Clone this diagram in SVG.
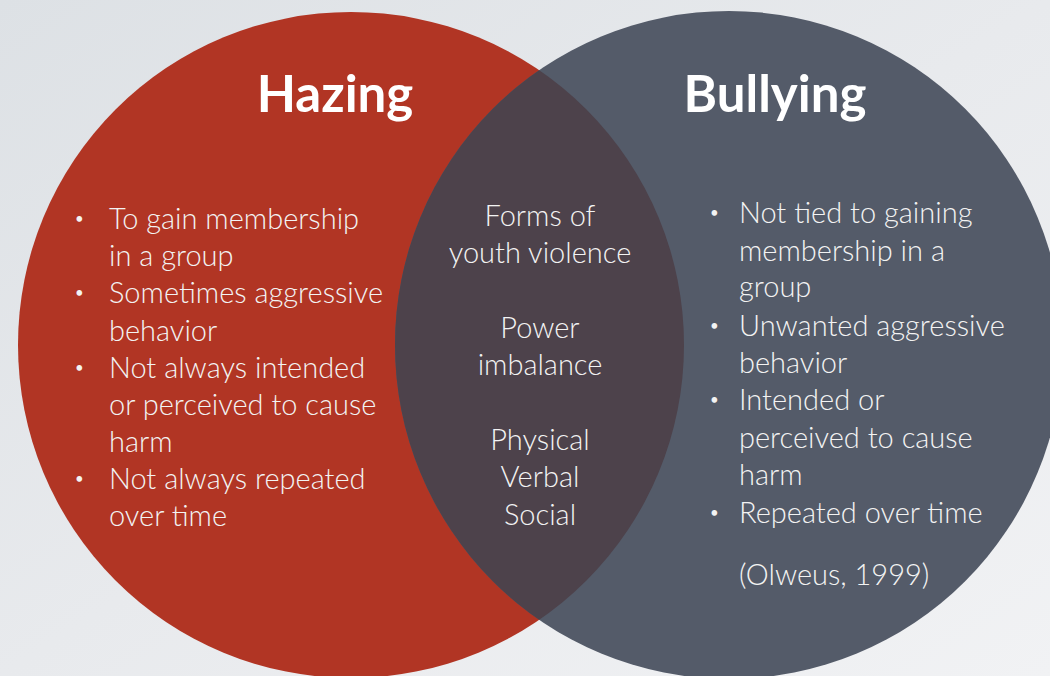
<svg xmlns="http://www.w3.org/2000/svg" width="1050" height="676" viewBox="0 0 1050 676">
  <defs>
    <linearGradient id="bg" x1="0" y1="0" x2="1" y2="1">
      <stop offset="0" stop-color="#dde1e5"/>
      <stop offset="0.5" stop-color="#e8eaed"/>
      <stop offset="1" stop-color="#f1f2f4"/>
    </linearGradient>
    <clipPath id="leftClip">
      <circle cx="351" cy="345" r="333"/>
    </clipPath>
    <style>
      .title { font-family: "Lato", "Open Sans", sans-serif; font-weight: 700; font-size: 51px; fill: #ffffff; }
      .body { font-family: "Lato", "Open Sans", sans-serif; font-weight: 300; font-size: 29px; fill: #f3f3f3; }
      .bullet { font-family: "Lato", "Open Sans", sans-serif; font-size: 15px; fill: #f3f3f3; }
      .center { text-anchor: middle; }
    </style>
  </defs>
  <rect x="0" y="0" width="1050" height="676" fill="url(#bg)"/>

  <g id="hazing">
    <circle cx="351" cy="345" r="333" fill="#b13524"/>
  </g>
  <g id="bullying">
    <circle cx="729" cy="345" r="334" fill="#545b69"/>
  </g>
  <g id="overlap">
    <circle cx="729" cy="345" r="334" fill="#4d424b" clip-path="url(#leftClip)"/>
  </g>

  <g id="hazing-text">
    <text class="title" x="335" y="112" text-anchor="middle">Hazing</text>
    <text class="bullet" x="75" y="224">•</text>
    <text class="body" x="109" y="229">To gain membership</text>
    <text class="body" x="109" y="266">in a group</text>
    <text class="bullet" x="75" y="298">•</text>
    <text class="body" x="109" y="303">Sometimes aggressive</text>
    <text class="body" x="109" y="341">behavior</text>
    <text class="bullet" x="75" y="373">•</text>
    <text class="body" x="109" y="378">Not always intended</text>
    <text class="body" x="109" y="415">or perceived to cause</text>
    <text class="body" x="109" y="452">harm</text>
    <text class="bullet" x="75" y="484">•</text>
    <text class="body" x="109" y="489">Not always repeated</text>
    <text class="body" x="109" y="526">over time</text>
  </g>

  <g id="shared-text">
    <text class="body center" x="540" y="226">Forms of</text>
    <text class="body center" x="540" y="263">youth violence</text>
    <text class="body center" x="540" y="338">Power</text>
    <text class="body center" x="540" y="375">imbalance</text>
    <text class="body center" x="540" y="450">Physical</text>
    <text class="body center" x="540" y="487">Verbal</text>
    <text class="body center" x="540" y="525">Social</text>
  </g>

  <g id="bullying-text">
    <text class="title" x="775" y="112" text-anchor="middle">Bullying</text>
    <text class="bullet" x="710" y="218">•</text>
    <text class="body" x="739" y="223">Not tied to gaining</text>
    <text class="body" x="739" y="261">membership in a</text>
    <text class="body" x="739" y="297">group</text>
    <text class="bullet" x="710" y="331">•</text>
    <text class="body" x="739" y="336">Unwanted aggressive</text>
    <text class="body" x="739" y="373">behavior</text>
    <text class="bullet" x="710" y="405">•</text>
    <text class="body" x="739" y="410">Intended or</text>
    <text class="body" x="739" y="448">perceived to cause</text>
    <text class="body" x="739" y="485">harm</text>
    <text class="bullet" x="710" y="518">•</text>
    <text class="body" x="739" y="523">Repeated over time</text>
    <text class="body" x="739" y="585">(Olweus, 1999)</text>
  </g>

  <g id="connectors"/>
</svg>
